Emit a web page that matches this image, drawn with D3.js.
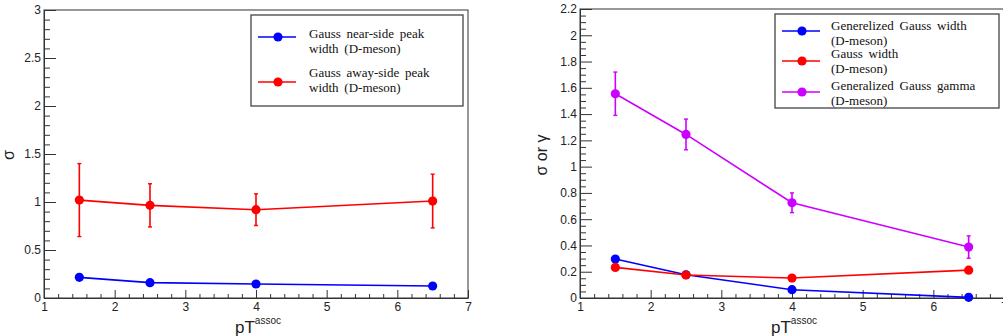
<!DOCTYPE html>
<html>
<head>
<meta charset="utf-8">
<script src="https://cdn.jsdelivr.net/npm/d3@7"></script>
<style>
  body { margin: 0; background: #fff; }
  svg { display: block; }
  .tick text { font-family: "Liberation Sans", Arial, sans-serif; font-size: 12px; fill: #222; }
  .legend text { font-family: "Liberation Serif", "Times New Roman", serif; font-size: 13px; word-spacing: 2.5px; fill: #111; }
</style>
</head>
<body>
<svg id="chart" width="1003" height="336"></svg>
<script>
// pT assoc bin centres
const PT_ASSOC = [1.5, 2.5, 4, 6.5];

// left pad: Gauss fit widths
const NEAR_WIDTH = [0.215, 0.16, 0.146, 0.125];
const NEAR_ERR = [0.012, 0.01, 0.01, 0.01];
const AWAY_WIDTH = [1.02, 0.965, 0.92, 1.01];
const AWAY_ERR = [0.38, 0.225, 0.165, 0.28];

// right pad: generalized gauss
const GEN_WIDTH = [0.297, 0.177, 0.063, 0.005];
const GEN_WIDTH_ERR = [0.01, 0.01, 0.01, 0.01];
const GAUSS_WIDTH = [0.233, 0.175, 0.152, 0.212];
const GAUSS_WIDTH_ERR = [0.01, 0.01, 0.01, 0.01];
const GEN_GAMMA = [1.555, 1.245, 0.725, 0.388];
const GEN_GAMMA_ERR = [0.165, 0.117, 0.075, 0.085];

const X_TICKS = [1, 2, 3, 4, 5, 6, 7];
const LEFT_Y_TICKS = [0, 0.5, 1, 1.5, 2, 2.5, 3];
const RIGHT_Y_TICKS = [0, 0.2, 0.4, 0.6, 0.8, 1, 1.2, 1.4, 1.6, 1.8, 2, 2.2];

const BLUE = '#0000ff';
const RED = '#ff0000';
const VIOLET = '#cc00ff';

const SVG = d3.select('#chart');

const buildSeries = (vals, errs) => vals.map((v, i) => ({ x: PT_ASSOC[i], y: v, e: errs[i] }));

/**
 * draws one ROOT-like pad: frame, inward ticks, graphs with error bars
 */
const drawPad = (cfg) => {
    const g = SVG.append('g');
    const x = d3.scaleLinear().domain([1, 7]).range([cfg.left, cfg.right]);
    const y = d3.scaleLinear().domain([0, cfg.yMax]).range([cfg.bottom, cfg.top]);

    // frame
    g.append('rect')
        .attr('x', cfg.left).attr('y', cfg.top)
        .attr('width', cfg.right - cfg.left).attr('height', cfg.bottom - cfg.top)
        .style('fill', 'none').style('stroke', '#333').style('stroke-width', 1);

    // x minor + major ticks
    const xMinor = d3.range(1, 7.0001, 0.2).filter(v => Math.abs(v - Math.round(v)) > 0.01);
    g.append('g').attr('transform', `translate(0,${cfg.bottom})`)
        .call(d3.axisBottom(x).tickValues(xMinor).tickSize(-4).tickFormat(''))
        .call(a => a.select('.domain').remove());
    g.append('g').attr('transform', `translate(0,${cfg.bottom})`)
        .call(d3.axisBottom(x).tickValues(X_TICKS).tickSizeInner(-8).tickSizeOuter(0).tickPadding(4).tickFormat(d3.format('d')))
        .call(a => a.select('.domain').style('stroke', '#333'));

    // y minor + major ticks
    const yMinor = d3.range(0, cfg.yMax + 1e-6, cfg.yMinorStep)
        .filter(v => cfg.yTicks.every(t => Math.abs(t - v) > 1e-6));
    g.append('g').attr('transform', `translate(${cfg.left},0)`)
        .call(d3.axisLeft(y).tickValues(yMinor).tickSize(-6).tickFormat(''))
        .call(a => a.select('.domain').remove());
    g.append('g').attr('transform', `translate(${cfg.left},0)`)
        .call(d3.axisLeft(y).tickValues(cfg.yTicks).tickSizeInner(-12).tickSizeOuter(0).tickPadding(3).tickFormat(d3.format('~g')))
        .call(a => a.select('.domain').style('stroke', '#333'));

    g.selectAll('.tick line').style('stroke', '#333');

    // axis titles
    const xt = g.append('text')
        .attr('x', cfg.xTitleX).attr('y', 333)
        .style('font-family', '"Liberation Sans", Arial, sans-serif')
        .style('font-size', '17px').style('fill', '#222');
    xt.append('tspan').text('pT');
    xt.append('tspan').attr('dy', -9).style('font-size', '10px').text('assoc');

    g.append('text')
        .attr('transform', `translate(${cfg.yTitleX},155) rotate(-90)`)
        .style('text-anchor', 'middle')
        .style('font-family', '"Liberation Sans", Arial, sans-serif')
        .style('font-size', '16px').style('fill', '#222')
        .text(cfg.yTitle);

    // graphs
    const line = d3.line().x(d => x(d.x)).y(d => y(d.y));
    cfg.series.forEach(s => {
        const sg = g.append('g');
        sg.append('path').datum(s.data).attr('d', line)
            .style('fill', 'none').style('stroke', s.color).style('stroke-width', 1.6);
        sg.selectAll('line.err').data(s.data).join('line')
            .attr('x1', d => x(d.x)).attr('x2', d => x(d.x))
            .attr('y1', d => y(d.y - d.e)).attr('y2', d => y(d.y + d.e))
            .style('stroke', s.color).style('stroke-width', 1.6);
        [1, -1].forEach(sign => {
            sg.selectAll(null).data(s.data).join('line')
                .attr('x1', d => x(d.x) - 2).attr('x2', d => x(d.x) + 2)
                .attr('y1', d => y(d.y + sign * d.e)).attr('y2', d => y(d.y + sign * d.e))
                .style('stroke', s.color).style('stroke-width', 1.4);
        });
        sg.selectAll('circle').data(s.data).join('circle')
            .attr('cx', d => x(d.x)).attr('cy', d => y(d.y)).attr('r', 4.6)
            .style('fill', s.color);
    });

    // legend
    const lg = g.append('g').attr('class', 'legend');
    const L = cfg.legend;
    lg.append('rect')
        .attr('x', L.x).attr('y', L.y).attr('width', L.w).attr('height', L.h)
        .style('fill', '#fff').style('stroke', '#444').style('stroke-width', 1.3);
    cfg.series.forEach((s, i) => {
        const cy = L.markerY[i];
        lg.append('line')
            .attr('x1', L.x + 7).attr('x2', L.x + 45).attr('y1', cy).attr('y2', cy)
            .style('stroke', s.color).style('stroke-width', 1.6);
        lg.append('circle').attr('cx', L.x + 27).attr('cy', cy).attr('r', 4.6).style('fill', s.color);
        s.label.forEach((t, j) => {
            lg.append('text')
                .attr('x', L.textX).attr('y', L.textY[i] + j * L.lineGap)
                .text(t);
        });
    });
};

drawPad({
    left: 44, right: 468, top: 10, bottom: 298,
    yMax: 3, yTicks: LEFT_Y_TICKS, yMinorStep: 0.1,
    xTitleX: 235, yTitleX: 14, yTitle: 'σ',
    series: [
        { color: BLUE, data: buildSeries(NEAR_WIDTH, NEAR_ERR), label: ['Gauss near-side peak', 'width (D-meson)'] },
        { color: RED, data: buildSeries(AWAY_WIDTH, AWAY_ERR), label: ['Gauss away-side peak', 'width (D-meson)'] }
    ],
    legend: { x: 251, y: 15, w: 212, h: 91, markerY: [37, 82], textX: 309, textY: [38, 77], lineGap: 15 }
});

drawPad({
    left: 580, right: 1004, top: 9, bottom: 298,
    yMax: 2.2, yTicks: RIGHT_Y_TICKS, yMinorStep: 0.05,
    xTitleX: 771, yTitleX: 547, yTitle: 'σ or γ',
    series: [
        { color: BLUE, data: buildSeries(GEN_WIDTH, GEN_WIDTH_ERR), label: ['Generelized Gauss width', '(D-meson)'] },
        { color: RED, data: buildSeries(GAUSS_WIDTH, GAUSS_WIDTH_ERR), label: ['Gauss width', '(D-meson)'] },
        { color: VIOLET, data: buildSeries(GEN_GAMMA, GEN_GAMMA_ERR), label: ['Generalized Gauss gamma', '(D-meson)'] }
    ],
    legend: { x: 775, y: 14, w: 224, h: 94, markerY: [31, 61, 92], textX: 831, textY: [30, 58, 90], lineGap: 15 }
});
</script>
</body>
</html>
